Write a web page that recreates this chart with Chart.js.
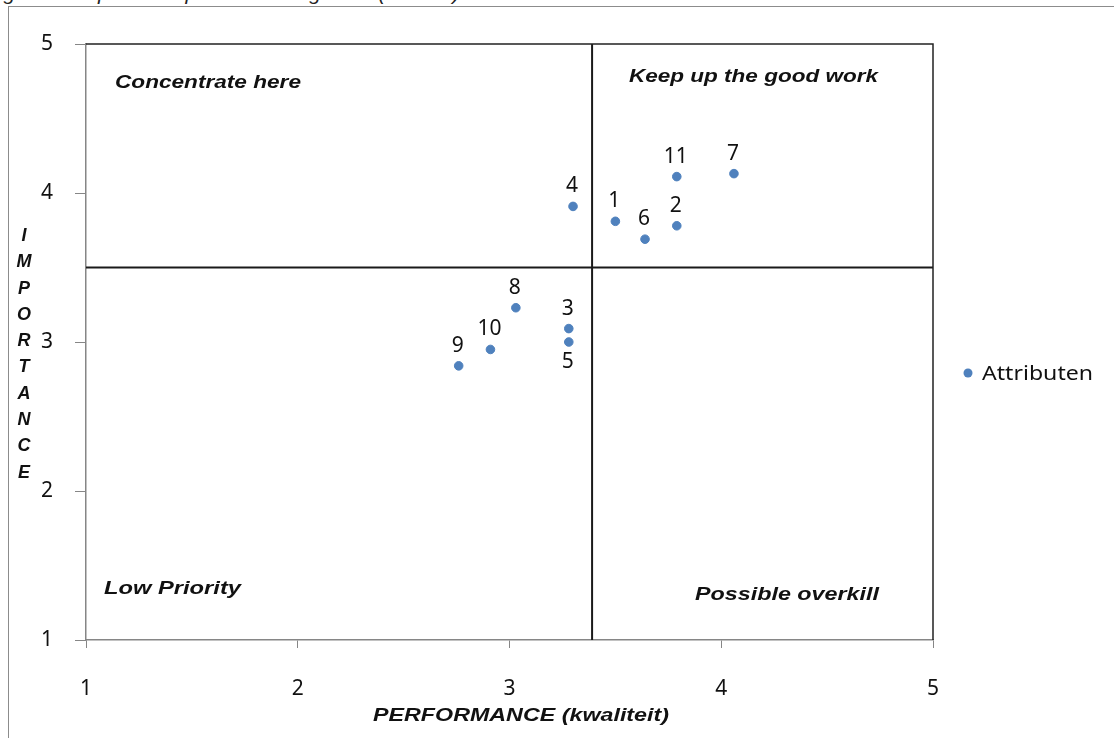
<!DOCTYPE html>
<html>
<head>
<meta charset="utf-8">
<script src="https://cdn.jsdelivr.net/npm/chart.js@4.4.1/dist/chart.umd.min.js"></script>
<style>
  html, body { margin: 0; padding: 0; background: #fff; overflow: hidden; }
  #wrap { position: relative; width: 1114px; height: 738px; }
  #caption {
    position: absolute; left: -14px; top: -19px; white-space: nowrap;
    font: italic 21px "Liberation Sans", Arial, sans-serif; color: #222;
  }
  #frame {
    position: absolute; left: 8px; top: 6px; width: 1120px; height: 760px;
    border: 1.5px solid #8c8c8c; box-sizing: border-box; background: transparent;
  }
  canvas { position: absolute; left: 0; top: 0; }
</style>
</head>
<body>
<div id="wrap">
  <div id="caption">Figure 3: Importance performance grafiek (Martilla)</div>
  <div id="frame"></div>
  <canvas id="c" width="1114" height="738"></canvas>
</div>
<script>
// Attribute numbers and their scores
const attributeIds = ['1', '2', '3', '4', '5', '6', '7', '8', '9', '10', '11'];
const performance  = [3.50, 3.79, 3.28, 3.30, 3.28, 3.64, 4.06, 3.03, 2.76, 2.91, 3.79];
const importance   = [3.81, 3.78, 3.09, 3.91, 3.00, 3.69, 4.13, 3.23, 2.84, 2.95, 4.11];
const labelBelow   = ['5'];

// Quadrant split values (mean performance / mean importance)
const performanceSplit = 3.39;
const importanceSplit = 3.5;

// Axis ticks
const tickValues = [1, 2, 3, 4, 5];
const seriesName = 'Attributen';
const xTitle = 'PERFORMANCE (kwaliteit)';
const yTitle = 'IMPORTANCE';
const quadrantTexts = ['Concentrate here', 'Keep up the good work', 'Low Priority', 'Possible overkill'];

const pointColor = '#4f81bd';
const textFont = '"Liberation Sans", Arial, sans-serif';
const numFont = '"Liberation Sans Narrow", "Noto Sans", sans-serif';
const legendFont = '"Noto Sans", "Liberation Sans", sans-serif';

const points = performance.map((x, i) => ({ x, y: importance[i] }));

// draw text stretched horizontally to a given width, anchored at its left edge
function wideText(ctx, text, left, y, width) {
  const w = ctx.measureText(text).width;
  ctx.save();
  ctx.textAlign = 'left';
  ctx.translate(left, y);
  ctx.scale(width / w, 1);
  ctx.fillText(text, 0, 0);
  ctx.restore();
}

const overlay = {
  id: 'overlay',
  afterDatasetsDraw(chart) {
    const { ctx, chartArea: a, scales } = chart;
    const xs = scales.x, ys = scales.y;
    ctx.save();

    // top and right edges of the plot box
    ctx.strokeStyle = '#222';
    ctx.lineWidth = 1.5;
    ctx.beginPath();
    ctx.moveTo(a.left, a.top);
    ctx.lineTo(a.right, a.top);
    ctx.lineTo(a.right, a.bottom);
    ctx.stroke();

    // point number labels
    const meta = chart.getDatasetMeta(2);
    ctx.font = '21px ' + numFont;
    ctx.fillStyle = '#111';
    ctx.textAlign = 'center';
    ctx.textBaseline = 'middle';
    meta.data.forEach((el, i) => {
      const id = attributeIds[i];
      const dy = labelBelow.includes(id) ? 20 : -20;
      ctx.fillText(id, el.x - 1, el.y + dy);
    });

    // quadrant captions
    ctx.font = 'italic bold 18px ' + textFont;
    ctx.fillStyle = '#111';
    ctx.textBaseline = 'middle';
    wideText(ctx, quadrantTexts[0], xs.getPixelForValue(1) + 29, ys.getPixelForValue(4.74), 186);
    wideText(ctx, quadrantTexts[1], xs.getPixelForValue(5) - 304, ys.getPixelForValue(4.78), 249);
    wideText(ctx, quadrantTexts[2], xs.getPixelForValue(1) + 18, ys.getPixelForValue(1.34), 137);
    wideText(ctx, quadrantTexts[3], xs.getPixelForValue(5) - 238, ys.getPixelForValue(1.30), 184);

    // x axis title
    ctx.font = 'italic bold 18px ' + textFont;
    wideText(ctx, xTitle, 373, 716, 296);

    // y axis title, one letter per line
    ctx.font = 'italic bold 18px ' + textFont;
    ctx.textAlign = 'center';
    const letters = yTitle.split('');
    letters.forEach((ch, i) => ctx.fillText(ch, 24, 236 + i * 26.3));

    // legend
    const ly = 373;
    ctx.fillStyle = pointColor;
    ctx.beginPath();
    ctx.arc(968, ly, 4.5, 0, Math.PI * 2);
    ctx.fill();
    ctx.fillStyle = '#111';
    ctx.font = '20px ' + legendFont;
    wideText(ctx, seriesName, 982, ly + 1, 111);

    ctx.restore();
  }
};

new Chart(document.getElementById('c'), {
  type: 'scatter',
  data: {
    datasets: [
      {
        label: 'performanceSplit',
        data: [{ x: performanceSplit, y: 1 }, { x: performanceSplit, y: 5 }],
        showLine: true, borderColor: '#1a1a1a', borderWidth: 2,
        pointRadius: 0, pointHoverRadius: 0
      },
      {
        label: 'importanceSplit',
        data: [{ x: 1, y: importanceSplit }, { x: 5, y: importanceSplit }],
        showLine: true, borderColor: '#1a1a1a', borderWidth: 2,
        pointRadius: 0, pointHoverRadius: 0
      },
      {
        label: seriesName,
        data: points,
        backgroundColor: pointColor,
        borderColor: pointColor,
        pointRadius: 4.3,
        pointHoverRadius: 4.3
      }
    ]
  },
  options: {
    responsive: false,
    animation: false,
    events: [],
    layout: { padding: { left: 0, right: 181, top: 44, bottom: 0 } },
    plugins: { legend: { display: false }, tooltip: { enabled: false } },
    scales: {
      x: {
        type: 'linear', min: 1, max: 5,
        afterBuildTicks: (s) => { s.ticks = tickValues.map(v => ({ value: v })); },
        afterFit: (s) => { s.height = 98; },
        grid: { display: true, drawOnChartArea: false, drawTicks: true, tickLength: 8, color: '#868686' },
        border: { display: true, color: '#868686', width: 1.5 },
        ticks: { padding: 28, color: '#111', font: { family: numFont, size: 21 }, maxRotation: 0 }
      },
      y: {
        type: 'linear', min: 1, max: 5,
        afterBuildTicks: (s) => { s.ticks = tickValues.map(v => ({ value: v })); },
        afterFit: (s) => { s.width = 86; },
        grid: { display: true, drawOnChartArea: false, drawTicks: true, tickLength: 11, color: '#868686' },
        border: { display: true, color: '#868686', width: 1.5 },
        ticks: { padding: 22, color: '#111', font: { family: numFont, size: 21 } }
      }
    }
  },
  plugins: [overlay]
});
</script>
</body>
</html>
